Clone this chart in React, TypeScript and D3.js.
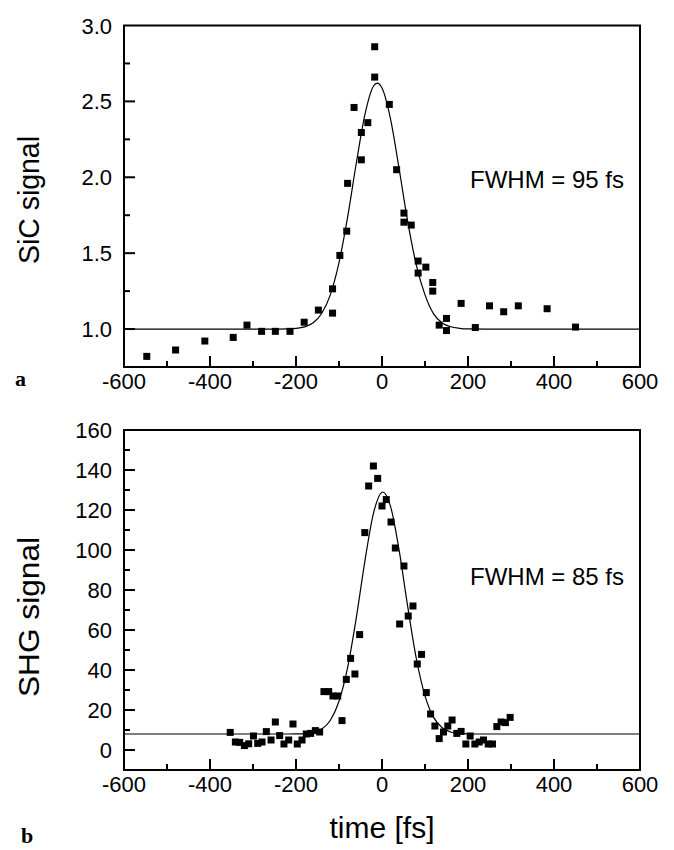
import React, { useEffect, useRef } from 'react';
import * as d3 from 'd3';

// shared time axis
const timeTicks = [-600, -400, -200, 0, 200, 400, 600];
const timeMinor = [-500, -300, -100, 100, 300, 500];

// panel a: SiC signal
const sicTicks = [1.0, 1.5, 2.0, 2.5, 3.0];
const sicMinor = [1.25, 1.75, 2.25, 2.75];
const sicPoints: [number, number][] = [
  [-547, 0.82], [-480, 0.862], [-412, 0.921], [-346, 0.945], [-314, 1.026],
  [-280, 0.985], [-248, 0.985], [-214, 0.985], [-181, 1.045], [-148, 1.125],
  [-115, 1.105], [-115, 1.265], [-98, 1.485], [-82, 1.645], [-80, 1.96],
  [-65, 2.46], [-48, 2.115], [-48, 2.295], [-33, 2.36], [-17, 2.86],
  [-17, 2.66], [17, 2.48], [34, 2.05], [51, 1.764], [51, 1.704],
  [68, 1.685], [84, 1.448], [84, 1.369], [102, 1.408], [118, 1.307],
  [118, 1.25], [133, 1.026], [150, 1.07], [150, 0.99], [184, 1.169],
  [217, 1.01], [250, 1.153], [283, 1.114], [317, 1.153], [384, 1.134],
  [450, 1.013],
];
const sicFit: [number, number][] = [
  [-600, 1.0], [-240, 1.0], [-220, 1.001], [-200, 1.004], [-180, 1.014],
  [-160, 1.041], [-140, 1.104], [-120, 1.227], [-100, 1.437], [-80, 1.737],
  [-60, 2.089], [-40, 2.41], [-20, 2.6], [-11, 2.62], [0, 2.588],
  [20, 2.382], [40, 2.053], [60, 1.704], [80, 1.42], [100, 1.225],
  [120, 1.1], [140, 1.04], [160, 1.015], [180, 1.005], [200, 1.001],
  [240, 1.0], [600, 1.0],
];

// panel b: SHG signal
const shgTicks = [0, 20, 40, 60, 80, 100, 120, 140, 160];
const shgMinor = [-10, 10, 30, 50, 70, 90, 110, 130, 150];
const shgPoints: [number, number][] = [
  [-353, 8.8], [-341, 4], [-331, 3.8], [-320, 2.2], [-310, 3.1], [-299, 7],
  [-289, 3.3], [-279, 4], [-269, 9.2], [-258, 5], [-248, 14], [-238, 7.2],
  [-228, 3], [-217, 5], [-207, 13], [-197, 3], [-186, 5], [-176, 8],
  [-166, 8.3], [-155, 9.7], [-145, 9], [-135, 29.2], [-124, 29.2], [-114, 27],
  [-103, 27], [-93, 14.7], [-83, 35.3], [-73, 45.8], [-63, 38], [-52, 57.7],
  [-40, 108.7], [-31, 132], [-20, 142], [-10, 135.8], [0, 122], [10, 125.2],
  [21, 114], [31, 101], [41, 63], [51, 92], [61, 67], [72, 72],
  [82, 43], [92, 47.8], [103, 28.7], [113, 18], [123, 12], [133, 5.7],
  [143, 9], [153, 12], [163, 15], [174, 8.3], [184, 9.3], [195, 3],
  [205, 7], [216, 3], [226, 4], [236, 5], [247, 3], [257, 3],
  [267, 11.7], [277, 14], [287, 13.7], [298, 16.3],
];
const shgFit: [number, number][] = [
  [-600, 8.0], [-220, 8.0], [-200, 8.05], [-180, 8.2], [-160, 8.8],
  [-140, 10.5], [-120, 14.9], [-100, 24.4], [-80, 41.2], [-60, 65.8],
  [-40, 94.2], [-20, 118.2], [0, 128.9], [2, 129], [20, 121.7],
  [40, 99.7], [60, 71.4], [80, 45.5], [100, 27.1], [120, 16.3],
  [140, 11.1], [160, 9.0], [180, 8.3], [200, 8.05], [220, 8.0], [600, 8.0],
];

const SANS = 'Liberation Sans, Arial, sans-serif';

type Panel = {
  yDomain: [number, number];
  yRange: [number, number];
  yTicks: number[];
  yMinor: number[];
  fmt: (v: number) => string;
  points: [number, number][];
  fit: [number, number][];
  yTitle: string;
  titleY: number;
  titleLen: number;
  fwhm: string;
  fwhmY: number;
  letter: string;
  letterX: number;
  letterY: number;
};

const panels: Panel[] = [
  {
    yDomain: [0.75, 3.0], yRange: [367, 25.5], yTicks: sicTicks, yMinor: sicMinor,
    fmt: d3.format('.1f'), points: sicPoints, fit: sicFit,
    yTitle: 'SiC signal', titleY: 200, titleLen: 128, fwhm: 'FWHM = 95 fs', fwhmY: 188,
    letter: 'a', letterX: 15, letterY: 386,
  },
  {
    yDomain: [-10, 160], yRange: [770, 430], yTicks: shgTicks, yMinor: shgMinor,
    fmt: d3.format('d'), points: shgPoints, fit: shgFit,
    yTitle: 'SHG signal', titleY: 617, titleLen: 160, fwhm: 'FWHM = 85 fs', fwhmY: 585,
    letter: 'b', letterX: 21, letterY: 843,
  },
];

const App = () => {
  const svgRef = useRef<SVGSVGElement>(null);

  useEffect(() => {
    const width = 674;
    const height = 850;
    const svg = d3.select(svgRef.current);
    svg.selectAll('*').remove();
    svg.attr('width', width).attr('height', height).style('background', '#fff');

    const x = d3.scaleLinear().domain([-600, 600]).range([124, 640]);

    panels.forEach((p) => {
      const y = d3.scaleLinear().domain(p.yDomain).range(p.yRange);
      const [y0, y1] = p.yRange; // bottom, top
      const g = svg.append('g');

      // frame
      g.append('rect')
        .attr('x', x(-600)).attr('y', y1)
        .attr('width', x(600) - x(-600)).attr('height', y0 - y1)
        .attr('fill', 'none').attr('stroke', '#000').attr('stroke-width', 2);

      // x ticks (inward)
      g.selectAll('.xmaj').data(timeTicks.slice(1, -1)).join('line')
        .attr('x1', (d) => x(d)).attr('x2', (d) => x(d))
        .attr('y1', y0).attr('y2', y0 - 11)
        .attr('stroke', '#000').attr('stroke-width', 2);
      g.selectAll('.xmin').data(timeMinor).join('line')
        .attr('x1', (d) => x(d)).attr('x2', (d) => x(d))
        .attr('y1', y0).attr('y2', y0 - 6)
        .attr('stroke', '#000').attr('stroke-width', 2);
      g.selectAll('.xlab').data(timeTicks).join('text')
        .attr('x', (d) => x(d)).attr('y', y0 + 22)
        .attr('text-anchor', 'middle')
        .style('font-family', SANS).style('font-size', '22px')
        .text((d) => String(d));

      // y ticks (inward)
      const yMajInner = p.yTicks.filter((d) => y(d) > y1 + 1);
      g.selectAll('.ymaj').data(yMajInner).join('line')
        .attr('x1', x(-600)).attr('x2', x(-600) + 11)
        .attr('y1', (d) => y(d)).attr('y2', (d) => y(d))
        .attr('stroke', '#000').attr('stroke-width', 2);
      g.selectAll('.ymin').data(p.yMinor.filter((d) => y(d) < y0 - 1)).join('line')
        .attr('x1', x(-600)).attr('x2', x(-600) + 6)
        .attr('y1', (d) => y(d)).attr('y2', (d) => y(d))
        .attr('stroke', '#000').attr('stroke-width', 2);
      g.selectAll('.ylab').data(p.yTicks).join('text')
        .attr('x', 112).attr('y', (d) => y(d) + 8)
        .attr('text-anchor', 'end')
        .style('font-family', SANS).style('font-size', '22px')
        .text((d) => p.fmt(d));

      // fitted curve
      const line = d3.line<[number, number]>()
        .x((d) => x(d[0])).y((d) => y(d[1]))
        .curve(d3.curveMonotoneX);
      g.append('path').datum(p.fit)
        .attr('d', line)
        .attr('fill', 'none').attr('stroke', '#000').attr('stroke-width', 1.2);

      // data points
      const s = 7;
      g.selectAll('.pt').data(p.points).join('rect')
        .attr('x', (d) => x(d[0]) - s / 2).attr('y', (d) => y(d[1]) - s / 2)
        .attr('width', s).attr('height', s).attr('fill', '#000');

      // labels
      g.append('text')
        .attr('transform', `translate(39,${p.titleY}) rotate(-90)`)
        .attr('text-anchor', 'middle')
        .attr('textLength', p.titleLen)
        .attr('lengthAdjust', 'spacingAndGlyphs')
        .style('font-family', SANS).style('font-size', '29px')
        .text(p.yTitle);
      g.append('text')
        .attr('x', 470).attr('y', p.fwhmY)
        .style('font-family', SANS).style('font-size', '24px')
        .text(p.fwhm);
      g.append('text')
        .attr('x', p.letterX).attr('y', p.letterY)
        .style('font-family', 'Liberation Serif, Times New Roman, serif')
        .style('font-size', '22px').style('font-weight', 'bold')
        .text(p.letter);
    });

    svg.append('text')
      .attr('x', 382).attr('y', 838)
      .attr('text-anchor', 'middle')
      .style('font-family', SANS).style('font-size', '30px')
      .text('time [fs]');
  }, []);

  return (
    <div style={{ position: 'absolute', left: 0, top: 0 }}>
      <svg ref={svgRef}></svg>
    </div>
  );
};

export default App;
